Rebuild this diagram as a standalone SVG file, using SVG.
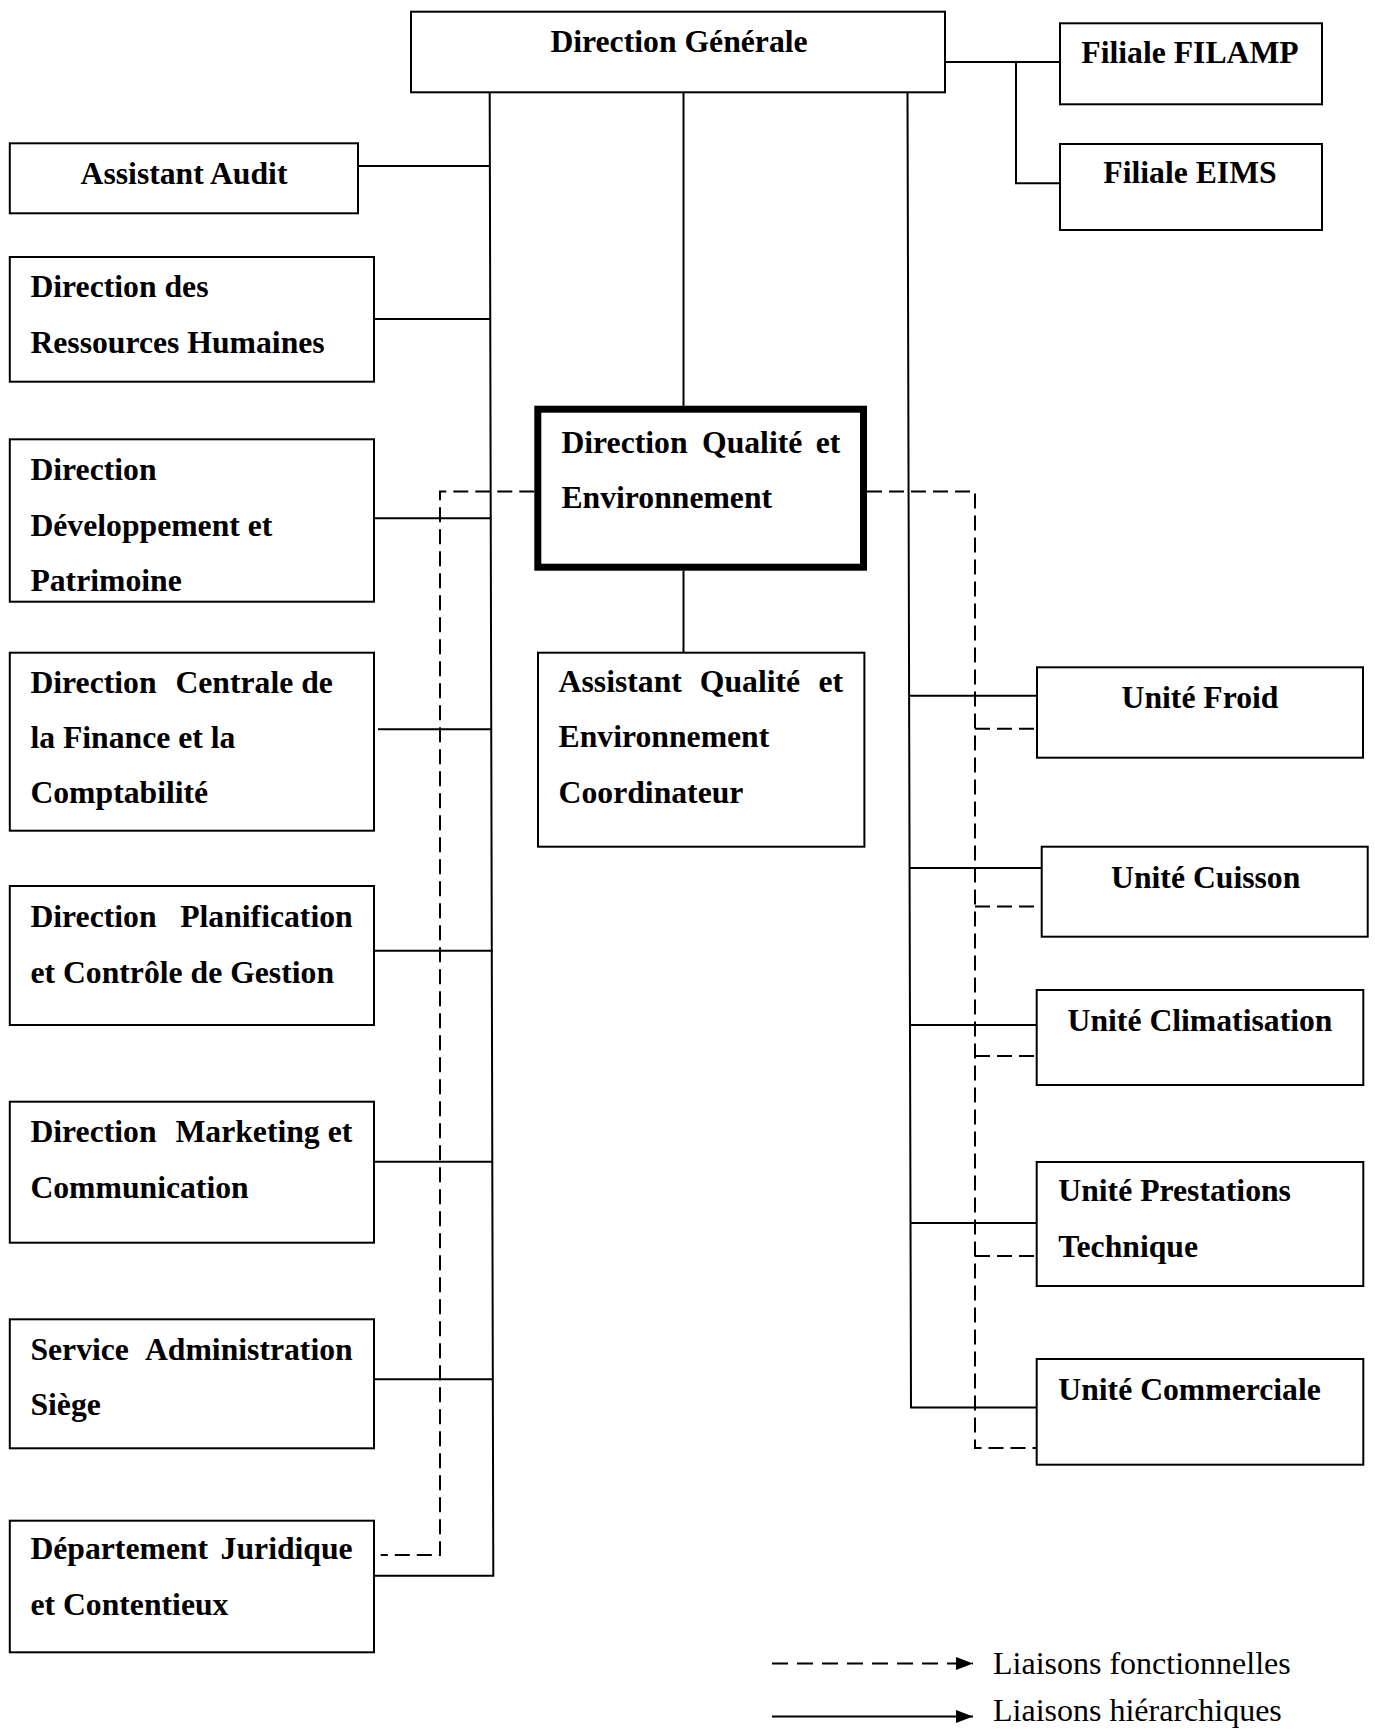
<svg xmlns="http://www.w3.org/2000/svg" width="1375" height="1729" viewBox="0 0 1375 1729">
<style>
.box{fill:#fff;stroke:#000;stroke-width:2}
.thick{fill:#fff;stroke:#000;stroke-width:7}
.t{font-family:"Liberation Serif","Times New Roman",serif;font-weight:bold;font-size:31.7px;fill:#000}
.leg{font-family:"Liberation Serif","Times New Roman",serif;font-size:32px;fill:#000}
.s{fill:none;stroke:#000;stroke-width:2}
.d{fill:none;stroke:#000;stroke-width:2;stroke-dasharray:15 7}
</style>
<defs>
<marker id="arr" viewBox="0 0 17 13" refX="17" refY="6.5" markerWidth="17" markerHeight="13" markerUnits="userSpaceOnUse" orient="auto">
<path d="M0,0 L17,6.5 L0,13 z" fill="#000"/>
</marker>
</defs>
<rect width="1375" height="1729" fill="#fff"/>

<g id="connectors">
<path class="s" d="M683.5 92.3 V405.7"/>
<path class="s" d="M683.5 570.7 V652.7"/>
<path class="s" d="M945 62 H1060"/>
<path class="s" d="M1016 62 V183.3 H1060"/>
<path class="s" d="M489.7 92.3 L493.3 1575.7 H373.3"/>
<path class="s" d="M358 166 H490"/>
<path class="s" d="M374 319 H490.5"/>
<path class="s" d="M374 518.3 H491.2"/>
<path class="s" d="M378 729.3 H492"/>
<path class="s" d="M374 950.7 H492.6"/>
<path class="s" d="M374 1161.7 H493"/>
<path class="s" d="M374 1379.3 H492"/>
<path class="s" d="M907.5 92.3 L911 1407.4 H1036.7"/>
<path class="s" d="M909.3 695.7 H1037"/>
<path class="s" d="M909.8 868 H1041.7"/>
<path class="s" d="M910.2 1025 H1036.7"/>
<path class="s" d="M910.7 1223 H1036.7"/>
<path class="d" d="M534.3 491.5 H440 V1555 H380.7"/>
<path class="d" d="M867 491.5 H975 V1448 H1036.7"/>
<path class="d" d="M975 728.7 H1037"/>
<path class="d" d="M975 906.6 H1041.7"/>
<path class="d" d="M975 1056 H1036.7"/>
<path class="d" d="M975 1256 H1036.7"/>
</g>

<g id="dg">
<rect class="box" x="411" y="11.7" width="534" height="80.6"/>
<text class="t" x="679" y="51.7" text-anchor="middle">Direction Générale</text>
</g>
<g id="filamp">
<rect class="box" x="1060" y="23.3" width="262" height="81"/>
<text class="t" x="1190" y="63.3" text-anchor="middle">Filiale FILAMP</text>
</g>
<g id="eims">
<rect class="box" x="1060" y="144" width="262" height="86"/>
<text class="t" x="1190" y="183.3" text-anchor="middle">Filiale EIMS</text>
</g>

<g id="assistant-audit">
<rect class="box" x="9.8" y="143.3" width="348.2" height="70"/>
<text class="t" x="184" y="184" text-anchor="middle">Assistant Audit</text>
</g>
<g id="drh">
<rect class="box" x="9.8" y="257" width="364.2" height="124.7"/>
<text class="t" x="30.4" y="296.7">Direction des</text>
<text class="t" x="30.4" y="352.7">Ressources Humaines</text>
</g>
<g id="ddp">
<rect class="box" x="9.8" y="439.3" width="364.2" height="162.4"/>
<text class="t" x="30.4" y="480">Direction</text>
<text class="t" x="30.4" y="535.7">Développement et</text>
<text class="t" x="30.4" y="590.7">Patrimoine</text>
</g>
<g id="dcfc">
<rect class="box" x="9.8" y="652.7" width="364.2" height="178"/>
<text class="t" y="692.7"><tspan x="30.4">Direction</tspan><tspan x="175.4">Centrale de</tspan></text>
<text class="t" x="30.4" y="748.3">la Finance et la</text>
<text class="t" x="30.4" y="802.7">Comptabilité</text>
</g>
<g id="dpcg">
<rect class="box" x="9.8" y="886" width="364.2" height="139"/>
<text class="t" x="30.4" y="926.7">Direction</text>
<text class="t" x="352.7" y="926.7" text-anchor="end">Planification</text>
<text class="t" x="30.4" y="983.3">et Contrôle de Gestion</text>
</g>
<g id="dmc">
<rect class="box" x="9.8" y="1101.7" width="364.2" height="141"/>
<text class="t" y="1141.7"><tspan x="30.4">Direction</tspan><tspan x="175.4">Marketing et</tspan></text>
<text class="t" x="30.4" y="1198.3">Communication</text>
</g>
<g id="sas">
<rect class="box" x="9.8" y="1319.3" width="364.2" height="129"/>
<text class="t" x="30.4" y="1360">Service</text>
<text class="t" x="352.7" y="1360" text-anchor="end">Administration</text>
<text class="t" x="30.4" y="1415">Siège</text>
</g>
<g id="djc">
<rect class="box" x="9.8" y="1520.7" width="364.2" height="131.6"/>
<text class="t" x="30.4" y="1559.3">Département</text>
<text class="t" x="352.7" y="1559.3" text-anchor="end">Juridique</text>
<text class="t" x="30.4" y="1615">et Contentieux</text>
</g>

<g id="dqe">
<rect class="thick" x="537.8" y="409.2" width="325.7" height="158"/>
<text class="t" x="561.4" y="452.7">Direction</text>
<text class="t" x="702" y="452.7">Qualité</text>
<text class="t" x="840.4" y="452.7" text-anchor="end">et</text>
<text class="t" x="561.4" y="507.7">Environnement</text>
</g>
<g id="aqe">
<rect class="box" x="538" y="652.7" width="326.4" height="194"/>
<text class="t" x="558.6" y="692.3">Assistant</text>
<text class="t" x="699.8" y="692.3">Qualité</text>
<text class="t" x="843" y="692.3" text-anchor="end">et</text>
<text class="t" x="558.6" y="747.3">Environnement</text>
<text class="t" x="558.6" y="802.7">Coordinateur</text>
</g>

<g id="froid">
<rect class="box" x="1037" y="667.3" width="326" height="90.4"/>
<text class="t" x="1200" y="707.7" text-anchor="middle">Unité Froid</text>
</g>
<g id="cuisson">
<rect class="box" x="1041.7" y="846.7" width="326" height="90"/>
<text class="t" x="1205.7" y="887.7" text-anchor="middle">Unité Cuisson</text>
</g>
<g id="climatisation">
<rect class="box" x="1036.7" y="990" width="326.6" height="95"/>
<text class="t" x="1200" y="1030.7" text-anchor="middle">Unité Climatisation</text>
</g>
<g id="prestations">
<rect class="box" x="1036.7" y="1162" width="326.6" height="124"/>
<text class="t" x="1058.3" y="1200.7">Unité Prestations</text>
<text class="t" x="1058.3" y="1257">Technique</text>
</g>
<g id="commerciale">
<rect class="box" x="1036.7" y="1359" width="326.6" height="105.7"/>
<text class="t" x="1058.3" y="1399.5">Unité Commerciale</text>
</g>

<g id="legend">
<path d="M772 1663.5 H973" stroke="#000" stroke-width="2" stroke-dasharray="16 9" fill="none" marker-end="url(#arr)"/>
<path d="M772 1716.5 H973" stroke="#000" stroke-width="2" fill="none" marker-end="url(#arr)"/>
<text class="leg" x="993" y="1674">Liaisons fonctionnelles</text>
<text class="leg" x="993" y="1721">Liaisons hiérarchiques</text>
</g>
</svg>
